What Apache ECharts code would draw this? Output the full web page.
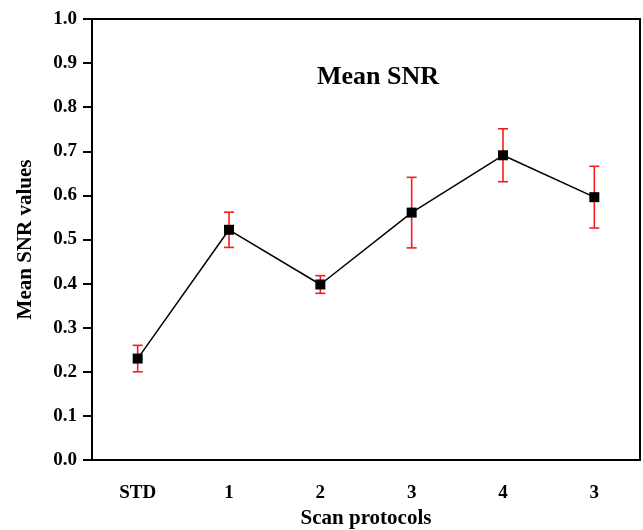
<!DOCTYPE html>
<html>
<head>
<meta charset="utf-8">
<script src="https://cdn.jsdelivr.net/npm/echarts@6/dist/echarts.min.js"></script>
<style>
    html, body {margin: 0; padding: 0; background: #fff;}
    #main {width: 643px; height: 530px;}
</style>
</head>
<body>
<div id="main"></div>
<script>
    var protocols = ['STD', '1', '2', '3', '4', '3'];
    var meanSnr = [0.23, 0.522, 0.398, 0.561, 0.691, 0.596];
    var snrError = [0.03, 0.04, 0.02, 0.08, 0.06, 0.07];
    var yTicks = [0, 0.1, 0.2, 0.3, 0.4, 0.5, 0.6, 0.7, 0.8, 0.9, 1.0];

    var font = 'Liberation Serif, Times New Roman, serif';

    var errData = meanSnr.map(function (v, i) {
        return [i, v - snrError[i], v + snrError[i]];
    });

    (function (charts) {
        charts.setOption({
            animation: false,
            title: {
                text: 'Mean SNR', left: 312, top: 59,
                textStyle: {fontFamily: font, fontWeight: 'bold', fontSize: 26, color: '#000'}
            },
            grid: {
                left: 92, right: 3, top: 19, bottom: 70, outerBoundsMode: 'none',
                show: true, borderColor: '#000', borderWidth: 2
            },
            xAxis: {
                type: 'category', data: protocols, boundaryGap: true,
                name: 'Scan protocols', nameLocation: 'middle', nameGap: 48,
                nameTextStyle: {fontFamily: font, fontWeight: 'bold', fontSize: 21, color: '#000'},
                axisLine: {lineStyle: {color: '#000', width: 2}},
                axisTick: {alignWithLabel: true, length: 8, lineStyle: {color: '#000', width: 2}},
                axisLabel: {margin: 24, fontFamily: font, fontWeight: 'bold', fontSize: 19, color: '#000'}
            },
            yAxis: {
                type: 'value', min: yTicks[0], max: yTicks[yTicks.length - 1], interval: 0.1,
                name: 'Mean SNR values', nameLocation: 'middle', nameGap: 56,
                nameTextStyle: {fontFamily: font, fontWeight: 'bold', fontSize: 21, color: '#000'},
                splitLine: {show: false},
                axisLine: {show: true, lineStyle: {color: '#000', width: 2}},
                axisTick: {show: true, length: 9, lineStyle: {color: '#000', width: 2}},
                axisLabel: {
                    margin: 15, fontFamily: font, fontWeight: 'bold', fontSize: 19, color: '#000',
                    formatter: function (v) { return v.toFixed(1); }
                }
            },
            series: [
                {
                    // error bars
                    type: 'custom', z: 2,
                    data: errData,
                    renderItem: function (params, api) {
                        var lo = api.coord([api.value(0), api.value(1)]);
                        var hi = api.coord([api.value(0), api.value(2)]);
                        var hw = 5;
                        var style = {stroke: '#ff1a1a', lineWidth: 1.6};
                        return {
                            type: 'group',
                            children: [
                                {type: 'line', shape: {x1: lo[0], y1: lo[1], x2: hi[0], y2: hi[1]}, style: style},
                                {type: 'line', shape: {x1: lo[0] - hw, y1: lo[1], x2: lo[0] + hw, y2: lo[1]}, style: style},
                                {type: 'line', shape: {x1: hi[0] - hw, y1: hi[1], x2: hi[0] + hw, y2: hi[1]}, style: style}
                            ]
                        };
                    }
                },
                {
                    type: 'line', z: 3,
                    data: meanSnr,
                    symbol: 'rect', symbolSize: 10,
                    itemStyle: {color: '#000'},
                    lineStyle: {color: '#000', width: 1.5}
                }
            ]
        });
    })(echarts.init(document.getElementById('main')));
</script>
</body>
</html>
